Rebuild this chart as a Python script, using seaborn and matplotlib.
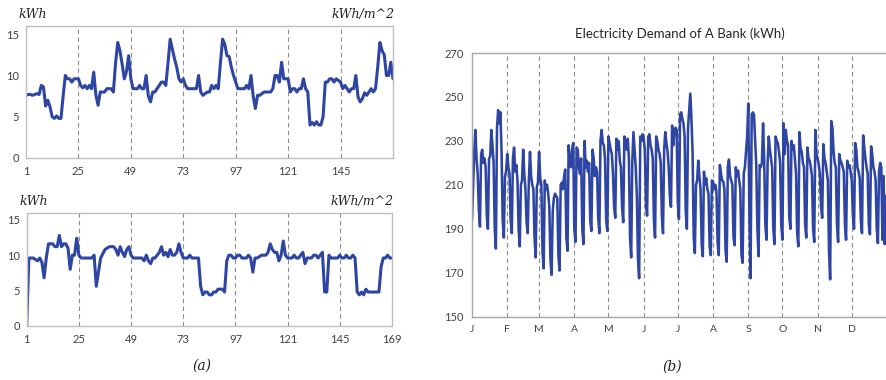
import numpy as np
import pandas as pd
import matplotlib
matplotlib.use("Agg")
import matplotlib.pyplot as plt
import seaborn as sns

# ---------------- data ----------------
hours = list(range(1, 170))

building_top = [
    7.6, 7.7, 7.7, 7.6, 7.7, 7.8, 7.7, 8.8, 8.6, 6.3,
    7.0, 6.2, 5.0, 4.8, 5.1, 4.8, 4.8, 7.5, 10.0, 9.6,
    9.6, 9.2, 9.6, 9.6, 9.6, 8.8, 8.5, 8.8, 8.4, 8.8,
    8.4, 10.4, 7.6, 6.4, 8.0, 8.0, 8.0, 8.4, 8.4, 8.4,
    8.0, 11.5, 14.0, 13.0, 11.4, 9.6, 10.5, 12.4, 9.6, 8.4,
    8.4, 8.4, 8.8, 8.4, 8.4, 10.0, 7.5, 6.8, 8.0, 8.0,
    8.4, 8.8, 9.2, 9.2, 8.8, 11.5, 14.4, 13.2, 12.0, 11.0,
    9.6, 9.2, 9.6, 8.8, 8.4, 8.4, 8.4, 8.4, 8.4, 10.0,
    8.0, 7.6, 7.8, 8.0, 8.0, 8.8, 8.4, 8.8, 8.4, 11.5,
    14.4, 13.8, 12.4, 12.3, 11.0, 10.0, 9.2, 8.4, 8.4, 8.4,
    8.4, 8.8, 8.4, 10.0, 7.5, 6.0, 7.6, 7.6, 7.8, 8.0,
    8.0, 8.0, 8.0, 8.4, 10.0, 10.0, 9.2, 11.6, 9.6, 9.6,
    9.6, 8.0, 8.4, 8.4, 8.0, 8.4, 8.4, 9.6, 8.4, 8.0,
    4.0, 4.3, 4.0, 4.4, 4.0, 4.0, 5.0, 9.2, 9.2, 9.6,
    9.6, 9.2, 9.6, 9.4, 9.2, 8.4, 8.8, 8.4, 8.0, 8.4,
    8.4, 10.0, 7.4, 6.8, 7.2, 7.9, 7.6, 8.0, 8.4, 8.0,
    8.4, 11.0, 14.0, 13.0, 12.5, 10.0, 10.0, 11.6, 9.6,
]

building_bottom = [
    0.0, 9.6, 9.6, 9.6, 9.4, 9.2, 9.6, 9.0, 6.8, 9.6,
    11.6, 11.6, 11.6, 11.2, 11.2, 12.8, 11.2, 11.6, 11.6, 11.0,
    8.0, 10.0, 10.0, 12.4, 10.0, 9.6, 9.6, 9.6, 9.6, 9.6,
    9.6, 10.0, 5.6, 7.6, 9.6, 10.2, 10.8, 11.0, 11.2, 11.2,
    11.2, 10.8, 10.0, 11.2, 10.4, 9.8, 10.8, 11.2, 10.0, 9.6,
    9.6, 9.6, 9.6, 9.6, 9.2, 10.0, 9.2, 8.8, 9.6, 9.6,
    10.0, 10.4, 11.2, 10.0, 10.4, 9.8, 10.8, 10.0, 10.0, 10.4,
    11.6, 10.4, 9.6, 9.6, 9.6, 10.0, 9.6, 9.6, 9.6, 9.6,
    5.6, 4.4, 4.8, 4.8, 4.4, 4.4, 4.8, 4.8, 5.2, 5.2,
    5.2, 4.8, 9.2, 10.0, 10.0, 9.6, 9.6, 10.0, 10.0, 9.6,
    9.6, 9.6, 10.0, 9.6, 7.6, 9.6, 9.6, 9.8, 10.0, 10.0,
    10.0, 10.4, 11.6, 10.8, 10.4, 10.4, 9.2, 10.0, 12.0, 10.0,
    9.6, 9.6, 9.6, 10.0, 9.6, 9.6, 10.0, 10.4, 8.8, 9.6,
    9.6, 9.6, 10.0, 10.0, 9.6, 10.0, 10.4, 4.8, 4.8, 10.0,
    9.6, 9.6, 9.6, 9.6, 10.0, 9.6, 9.6, 10.0, 9.6, 9.6,
    10.0, 9.6, 4.8, 4.4, 4.8, 4.4, 5.2, 4.8, 4.8, 4.8,
    4.8, 4.8, 4.8, 8.4, 9.6, 9.6, 10.0, 9.6, 9.6,
]

hour_ticks = [1, 25, 49, 73, 97, 121, 145, 169]

# daily demand of a bank, one row per week (Sun..Sat)
bank_demand = [
    194, 210, 225, 235, 222, 215, 199,
    191, 224, 226, 220, 222, 218, 196,
    190, 222, 223, 235, 228, 220, 190,
    181, 236, 244, 238, 243, 225, 194,
    186, 214, 216, 224, 218, 215, 194,
    188, 222, 227, 216, 219, 212, 190,
    182, 210, 212, 226, 215, 208, 193,
    188, 212, 225, 214, 210, 208, 186,
    177, 209, 211, 225, 213, 210, 180,
    172, 212, 208, 210, 206, 200, 176,
    169, 198, 204, 206, 205, 204, 178,
    171, 210, 211, 208, 214, 217, 186,
    180, 228, 220, 218, 226, 229, 190,
    184, 227, 226, 218, 215, 222, 190,
    183, 230, 218, 221, 216, 220, 194,
    189, 226, 222, 214, 218, 216, 195,
    188, 230, 235, 229, 228, 222, 194,
    189, 232, 229, 226, 224, 215, 200,
    195, 231, 226, 230, 221, 218, 200,
    193, 232, 229, 226, 231, 222, 186,
    177, 221, 234, 226, 218, 205, 176,
    167.5, 232, 230, 233, 231, 226, 202,
    196, 232, 233, 228, 226, 222, 194,
    186, 232, 230, 226, 224, 220, 196,
    188, 226, 234, 229, 225, 218, 205,
    200, 237, 228, 234, 236, 235, 202,
    194.5, 242, 243, 240, 238, 232, 198,
    190, 236, 244, 251.5, 240, 225, 186,
    179, 210, 212, 221, 214, 208, 183,
    177.5, 216, 210, 213, 208, 206, 182,
    178, 212, 211.5, 208, 210, 207, 184,
    178, 219, 215, 212, 211.5, 208, 180,
    175, 218, 221.5, 214, 212, 210, 186,
    182.5, 218, 214, 216.5, 212, 208, 178,
    174.5, 215, 218, 225, 232, 247, 195,
    167.5, 242, 243, 242, 230, 219, 190,
    177.5, 219, 218, 220, 238, 221, 192,
    185, 220, 232, 226, 222, 218, 190,
    183, 232, 230, 229, 225, 220, 192,
    185, 238, 224, 235, 230, 228, 196,
    190, 230, 226, 228, 222, 215, 188,
    182, 234, 226.5, 225, 220, 218, 192,
    186, 227, 222, 221, 218, 214, 190,
    184, 235, 224, 222, 219, 215, 200,
    195, 228.5, 222, 220, 216, 212, 180,
    167, 239, 236, 225, 220, 218, 192,
    184, 224, 221, 220, 218, 216, 192,
    185, 221, 218, 219, 216, 212, 196,
    190, 229, 226, 218, 216, 213, 194,
    188, 232.5, 227, 222, 218, 215, 192,
    187.5, 227.5, 224, 218, 216, 212, 190,
    183.5, 216, 220, 218, 185, 214, 183,
    205,
]
month_labels = ["J", "F", "M", "A", "M", "J", "J", "A", "S", "O", "N", "D"]
month_start_day = [0, 31, 59, 90, 120, 151, 181, 212, 243, 273, 304, 334]

# ---------------- style ----------------
sns.set_style("white")
plt.rcParams["font.family"] = ["Lato", "DejaVu Sans"]

LINE = "#2E45A3"
SPINE = "#BFBFBF"
GRID = "#8C8C8C"
TXT = "#404040"

fig = plt.figure(figsize=(8.87, 3.80), dpi=100)

def hourly_panel(ax, values, show_last):
    df = pd.DataFrame({"hour": hours, "kwh": values})
    sns.lineplot(data=df, x="hour", y="kwh", ax=ax, color=LINE, linewidth=2.2)
    ax.set_xlim(1, 169)
    ax.set_ylim(0, 16)
    ax.set_yticks([0, 5, 10, 15])
    ax.set_xticks(hour_ticks)
    labels = [str(h) for h in hour_ticks]
    if not show_last:
        labels[-1] = ""
    ax.set_xticklabels(labels)
    for h in hour_ticks[1:-1]:
        ax.axvline(h, color=GRID, linestyle=(0, (4, 3)), linewidth=0.8, zorder=0)
    for s in ax.spines.values():
        s.set_color(SPINE)
        s.set_linewidth(1.0)
    ax.tick_params(axis="both", labelsize=8, colors=TXT, length=3, width=0.8,
                   color=SPINE, pad=2)
    ax.tick_params(axis="x", pad=3)
    ax.set_xlabel("")
    ax.set_ylabel("")
    ax.text(-0.02, 1.04, "kWh", transform=ax.transAxes, fontsize=9,
            fontstyle="italic", family="DejaVu Serif", color="#222222",
            ha="left", va="bottom")
    ax.text(1.005, 1.04, "kWh/m^2", transform=ax.transAxes, fontsize=9,
            fontstyle="italic", family="DejaVu Serif", color="#222222",
            ha="right", va="bottom")

ax1 = fig.add_axes([26 / 887, 1 - 158 / 380, 367 / 887, 132 / 380])
hourly_panel(ax1, building_top, show_last=False)

ax2 = fig.add_axes([26.7 / 887, 1 - 326 / 380, 365.3 / 887, 113.3 / 380])
hourly_panel(ax2, building_bottom, show_last=True)

# right panel
ax3 = fig.add_axes([472 / 887, 1 - 316.7 / 380, 415 / 887, 263.7 / 380])
df_b = pd.DataFrame({"day": list(range(len(bank_demand))), "kwh": bank_demand})
sns.lineplot(data=df_b, x="day", y="kwh", ax=ax3, color=LINE, linewidth=1.85)
ax3.set_xlim(0, 365)
ax3.set_ylim(150, 270)
ax3.set_yticks(list(range(150, 271, 20)))
ax3.set_xticks(month_start_day)
ax3.set_xticklabels(month_labels)
for d in month_start_day[1:]:
    ax3.axvline(d, color=GRID, linestyle=(0, (4, 3)), linewidth=0.8, zorder=0)
for name, s in ax3.spines.items():
    s.set_color("#A6A6A6")
    s.set_linewidth(1.0)
ax3.spines["right"].set_visible(False)
ax3.tick_params(axis="y", labelsize=8, colors=TXT, length=3, width=0.8,
                color="#A6A6A6", pad=3)
ax3.tick_params(axis="x", labelsize=7.5, colors=TXT, length=3, width=0.8,
                color="#A6A6A6", pad=3)
ax3.set_xlabel("")
ax3.set_ylabel("")
ax3.set_title("Electricity Demand of A Bank (kWh)", fontsize=9.5,
              color="#262626", pad=11)

fig.text(202 / 887, 1 - 366 / 380, "(a)", fontsize=10, fontstyle="italic",
         family="DejaVu Serif", ha="center", va="center", color="#222222")
fig.text(672 / 887, 1 - 367 / 380, "(b)", fontsize=10, fontstyle="italic",
         family="DejaVu Serif", ha="center", va="center", color="#222222")

fig.savefig("out.png", dpi=100)
